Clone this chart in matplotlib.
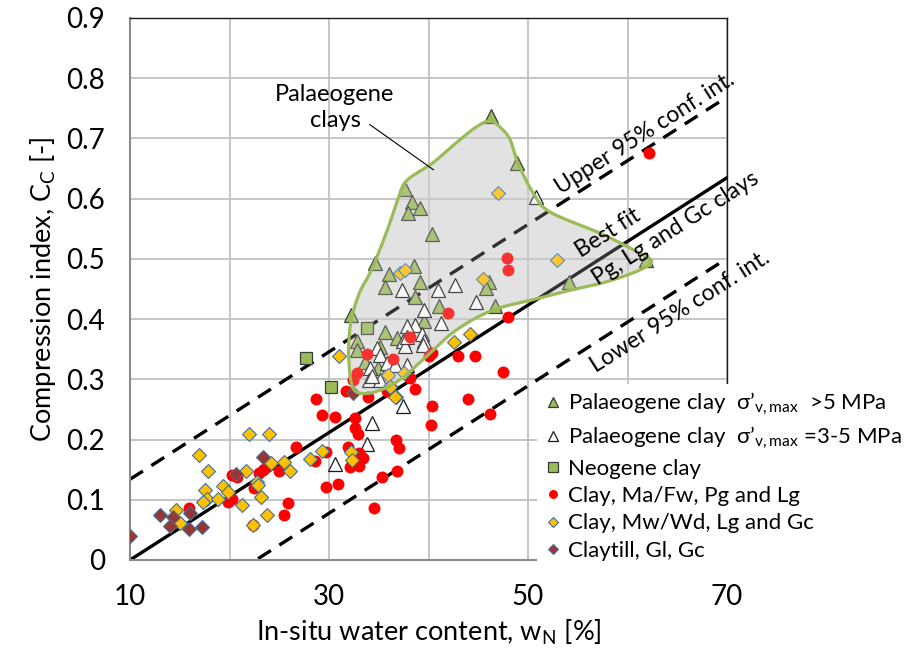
import numpy as np
import matplotlib
matplotlib.use("Agg")
import matplotlib.pyplot as plt

plt.rcParams["font.family"] = ["Lato", "DejaVu Sans"]
plt.rcParams["mathtext.fontset"] = "custom"
plt.rcParams["mathtext.rm"] = "Lato"

# --- data (w_N [%], C_c [-]) ---
pal_hi_w = [46.3, 48.9, 37.6, 38.3, 39.1, 37.9, 40.4, 38.5, 61.9, 54.1, 34.6, 36.0,
            39.1, 35.6, 46.1, 45.8, 38.6, 41.1, 46.7, 32.2, 39.5, 35.6, 36.8, 32.8,
            35.1, 32.8, 33.6, 34.9]
pal_hi_c = [0.738, 0.659, 0.616, 0.595, 0.585, 0.577, 0.541, 0.489, 0.498, 0.462, 0.493, 0.475,
            0.462, 0.454, 0.462, 0.451, 0.437, 0.421, 0.422, 0.407, 0.397, 0.378, 0.368, 0.364,
            0.354, 0.349, 0.329, 0.318]

pal_mid_w = [50.8, 37.3, 41.0, 42.7, 44.8, 39.5, 41.3, 38.6, 37.8, 39.3, 39.5, 37.4,
             39.4, 34.8, 35.1, 35.8, 37.8, 34.1, 34.0, 35.1, 37.6, 37.8, 34.3, 36.6,
             37.4, 34.3, 33.8, 30.6]
pal_mid_c = [0.602, 0.449, 0.449, 0.457, 0.428, 0.415, 0.393, 0.390, 0.388, 0.376, 0.363, 0.364,
             0.357, 0.352, 0.340, 0.327, 0.324, 0.318, 0.299, 0.299, 0.355, 0.371, 0.305, 0.324,
             0.256, 0.228, 0.192, 0.159]

neo_w = [27.7, 30.2, 33.8]
neo_c = [0.335, 0.288, 0.385]

red_w = [15.9, 20.3, 20.8, 19.8, 20.3, 23.0, 23.4, 22.5, 22.4, 25.0, 25.9, 25.5,
         23.7, 28.7, 29.3, 30.6, 26.7, 29.7, 30.9, 29.7, 28.6, 32.6, 32.6, 32.9,
         31.9, 33.0, 33.4, 32.1, 33.0, 34.5, 35.3, 36.8, 36.7, 37.0, 38.6, 33.9,
         35.8, 38.1, 33.8, 36.4, 32.8, 32.4, 31.7, 42.0, 40.4, 40.3, 44.0, 46.2,
         43.0, 44.7, 40.0, 40.4, 48.0, 47.5, 38.1, 47.9, 48.0, 62.2]
red_c = [0.086, 0.141, 0.138, 0.097, 0.101, 0.144, 0.150, 0.119, 0.058, 0.147, 0.094, 0.075,
         0.155, 0.268, 0.241, 0.237, 0.188, 0.121, 0.126, 0.180, 0.165, 0.235, 0.219, 0.209,
         0.188, 0.178, 0.169, 0.155, 0.156, 0.087, 0.137, 0.147, 0.199, 0.186, 0.284, 0.270,
         0.280, 0.371, 0.342, 0.334, 0.311, 0.299, 0.281, 0.410, 0.256, 0.225, 0.267, 0.243,
         0.338, 0.338, 0.338, 0.343, 0.404, 0.313, 0.302, 0.501, 0.482, 0.675]

yel_w = [22.0, 24.0, 16.9, 17.8, 21.7, 17.5, 19.3, 19.8, 17.7, 17.3, 18.8, 21.3,
         23.2, 22.8, 22.9, 23.8, 22.4, 14.6, 15.0, 24.2, 25.5, 26.1, 28.1, 29.3,
         32.2, 32.3, 36.7, 36.1, 31.0, 37.1, 37.6, 35.9, 37.5, 42.6, 44.2, 45.5,
         47.0, 52.9, 36.1, 36.6]
yel_c = [0.209, 0.209, 0.174, 0.148, 0.148, 0.116, 0.123, 0.113, 0.101, 0.096, 0.101, 0.091,
         0.105, 0.130, 0.125, 0.075, 0.058, 0.083, 0.062, 0.161, 0.162, 0.147, 0.167, 0.181,
         0.180, 0.166, 0.270, 0.289, 0.338, 0.476, 0.481, 0.307, 0.310, 0.362, 0.375, 0.466,
         0.609, 0.498, 0.288, 0.271]

till_w = [10.0, 13.0, 14.3, 14.0, 16.0, 15.9, 17.2, 23.4, 20.7, 32.4]
till_c = [0.040, 0.074, 0.072, 0.056, 0.078, 0.051, 0.054, 0.171, 0.143, 0.277]

# regression lines: C = slope * (w - 10) + offset
fit_slope = 0.01058
conf_offset = 0.134
line_w = [10, 70]

# outline of the Palaeogene clay region (w, C), clockwise from the top
region_w = [46.2, 47.3, 48.2, 49.0, 50.5, 52.2, 57.2, 60.6, 62.4, 61.3, 57.9, 54.5,
            51.2, 46.5, 42.8, 40.0, 37.1, 34.8, 33.1, 32.3, 32.0, 32.0, 32.3, 33.1,
            34.1, 35.1, 36.1, 36.9, 37.8, 40.4, 42.8, 44.8]
region_c = [0.729, 0.717, 0.698, 0.659, 0.610, 0.578, 0.543, 0.515, 0.497, 0.482, 0.462, 0.449,
            0.435, 0.415, 0.382, 0.341, 0.299, 0.280, 0.277, 0.290, 0.330, 0.365, 0.404, 0.445,
            0.476, 0.515, 0.559, 0.598, 0.630, 0.659, 0.693, 0.719]


def smooth_closed(xs, ys, n=16):
    # closed Catmull-Rom curve through the outline points
    p = np.column_stack([xs, ys])
    N = len(p)
    t = np.linspace(0, 1, n, endpoint=False)[:, None]
    segs = []
    for i in range(N):
        p0, p1, p2, p3 = p[i - 1], p[i], p[(i + 1) % N], p[(i + 2) % N]
        segs.append(0.5 * (2 * p1 + (-p0 + p2) * t
                           + (2 * p0 - 5 * p1 + 4 * p2 - p3) * t ** 2
                           + (-p0 + 3 * p1 - 3 * p2 + p3) * t ** 3))
    out = np.vstack(segs + [segs[0][:1]])
    return out[:, 0], out[:, 1]


fig = plt.figure(figsize=(9.1, 6.56), dpi=100)
ax = fig.add_axes([130 / 910, 1 - 560 / 656, 597 / 910, 542 / 656])

ax.set_xlim(10, 70)
ax.set_ylim(0, 0.9)
ax.set_xticks([10, 30, 50, 70])
ax.set_xticks([20, 40, 60], minor=True)
ax.set_yticks(np.arange(0, 0.91, 0.1))
ax.set_yticklabels(["0", "0.1", "0.2", "0.3", "0.4", "0.5", "0.6", "0.7", "0.8", "0.9"])
ax.tick_params(which="both", length=0, labelsize=20, colors="#000000")
ax.tick_params(axis="x", pad=17)
ax.tick_params(axis="y", pad=18)
ax.set_axisbelow(True)
ax.grid(True, which="both", color="#c0c0c0", lw=1.3)
for s in ["left", "bottom"]:
    ax.spines[s].set_color("#8c8c8c")
    ax.spines[s].set_linewidth(1.5)
for s in ["top", "right"]:
    ax.spines[s].set_color("#1a1a1a")
    ax.spines[s].set_linewidth(1.0)

ax.set_xlabel("In-situ water content, w$_{\\mathregular{N}}$ [%]", fontsize=19.5, labelpad=6)
ax.set_ylabel("Compression index, C$_{\\mathregular{C}}$ [-]", fontsize=19.5, labelpad=6)

# region fill (under the grid) and outline
rx, ry = smooth_closed(region_w, region_c)
ax.fill(rx, ry, color="#e3e3e3", zorder=0.3, lw=0)

# fit and confidence lines
lw_ = np.array(line_w, dtype=float)
ax.plot(lw_, fit_slope * (lw_ - 10), color="black", lw=2.4, zorder=2)
ax.plot(lw_, fit_slope * (lw_ - 10) + conf_offset, color="black", lw=2.4,
        dashes=(4.6, 3.0), zorder=2)
ax.plot(lw_, fit_slope * (lw_ - 10) - conf_offset, color="black", lw=2.4,
        dashes=(4.6, 3.0), zorder=2)

h1, = ax.plot(pal_hi_w, pal_hi_c, ls="none", marker="^", ms=10, mfc="#9bbb59",
              mec="#3b3b3b", mew=0.9, zorder=3)
h2, = ax.plot(pal_mid_w, pal_mid_c, ls="none", marker="^", ms=10, mfc="white",
              mec="#1a1a1a", mew=0.9, zorder=3.1)
h3, = ax.plot(neo_w, neo_c, ls="none", marker="s", ms=9, mfc="#9bbb59",
              mec="#3b3b3b", mew=0.9, zorder=3.2)
h4, = ax.plot(red_w, red_c, ls="none", marker="o", ms=8.6, mfc="#ff0000",
              mec="#ff0000", mew=0, zorder=3.3)
h5, = ax.plot(yel_w, yel_c, ls="none", marker="D", ms=6.8, mfc="#ffc000",
              mec="#41719c", mew=0.8, zorder=3.4)
h6, = ax.plot(till_w, till_c, ls="none", marker="D", ms=6.8, mfc="#953735",
              mec="#41719c", mew=0.8, zorder=3.5)

# translucent layer of the region over the markers, then its outline
ax.fill(rx, ry, color="#e0e0e0", alpha=0.22, zorder=3.8, lw=0)
ax.plot(rx, ry, color="#9bbb59", lw=2.3, zorder=4)

# labels on the chart
ax.text(30.6, 0.752, "Palaeogene\nclays", fontsize=17, ha="center", va="center",
        linespacing=1.3, zorder=5)
ax.plot([34.1, 40.5], [0.723, 0.648], color="black", lw=0.8, zorder=5)
angle = 32.5
ax.text(61.8, 0.709, "Upper 95% conf. int.", fontsize=16.5, rotation=angle,
        rotation_mode="anchor", ha="center", va="center", clip_on=False, zorder=5)
ax.text(58.0, 0.543, "Best fit", fontsize=16.5, rotation=angle,
        rotation_mode="anchor", ha="center", va="center", clip_on=False, zorder=5)
ax.text(64.8, 0.551, "Pg, Lg and Gc clays", fontsize=16.5, rotation=angle,
        rotation_mode="anchor", ha="center", va="center", clip_on=False, zorder=5)
ax.text(65.3, 0.412, "Lower 95% conf. int.", fontsize=16.5, rotation=angle,
        rotation_mode="anchor", ha="center", va="center", clip_on=False, zorder=5)

sig = "σ’$_{\\mathregular{v,max}}$"
labels = [
    "Palaeogene clay  " + sig + "  >5 MPa",
    "Palaeogene clay  " + sig + " =3-5 MPa",
    "Neogene clay",
    "Clay, Ma/Fw, Pg and Lg",
    "Clay, Mw/Wd, Lg and Gc",
    "Claytill, Gl, Gc",
]
leg = fig.legend([h1, h2, h3, h4, h5, h6], labels, loc="upper left",
                 bbox_to_anchor=(537 / 910, 1 - 384 / 656), fontsize=16,
                 frameon=True, facecolor="white", edgecolor="none", framealpha=1,
                 fancybox=False, borderpad=0.3, handlelength=0.85, handletextpad=0.25,
                 labelspacing=0.33, markerscale=0.75, borderaxespad=0)

fig.savefig("out.png", dpi=100)
